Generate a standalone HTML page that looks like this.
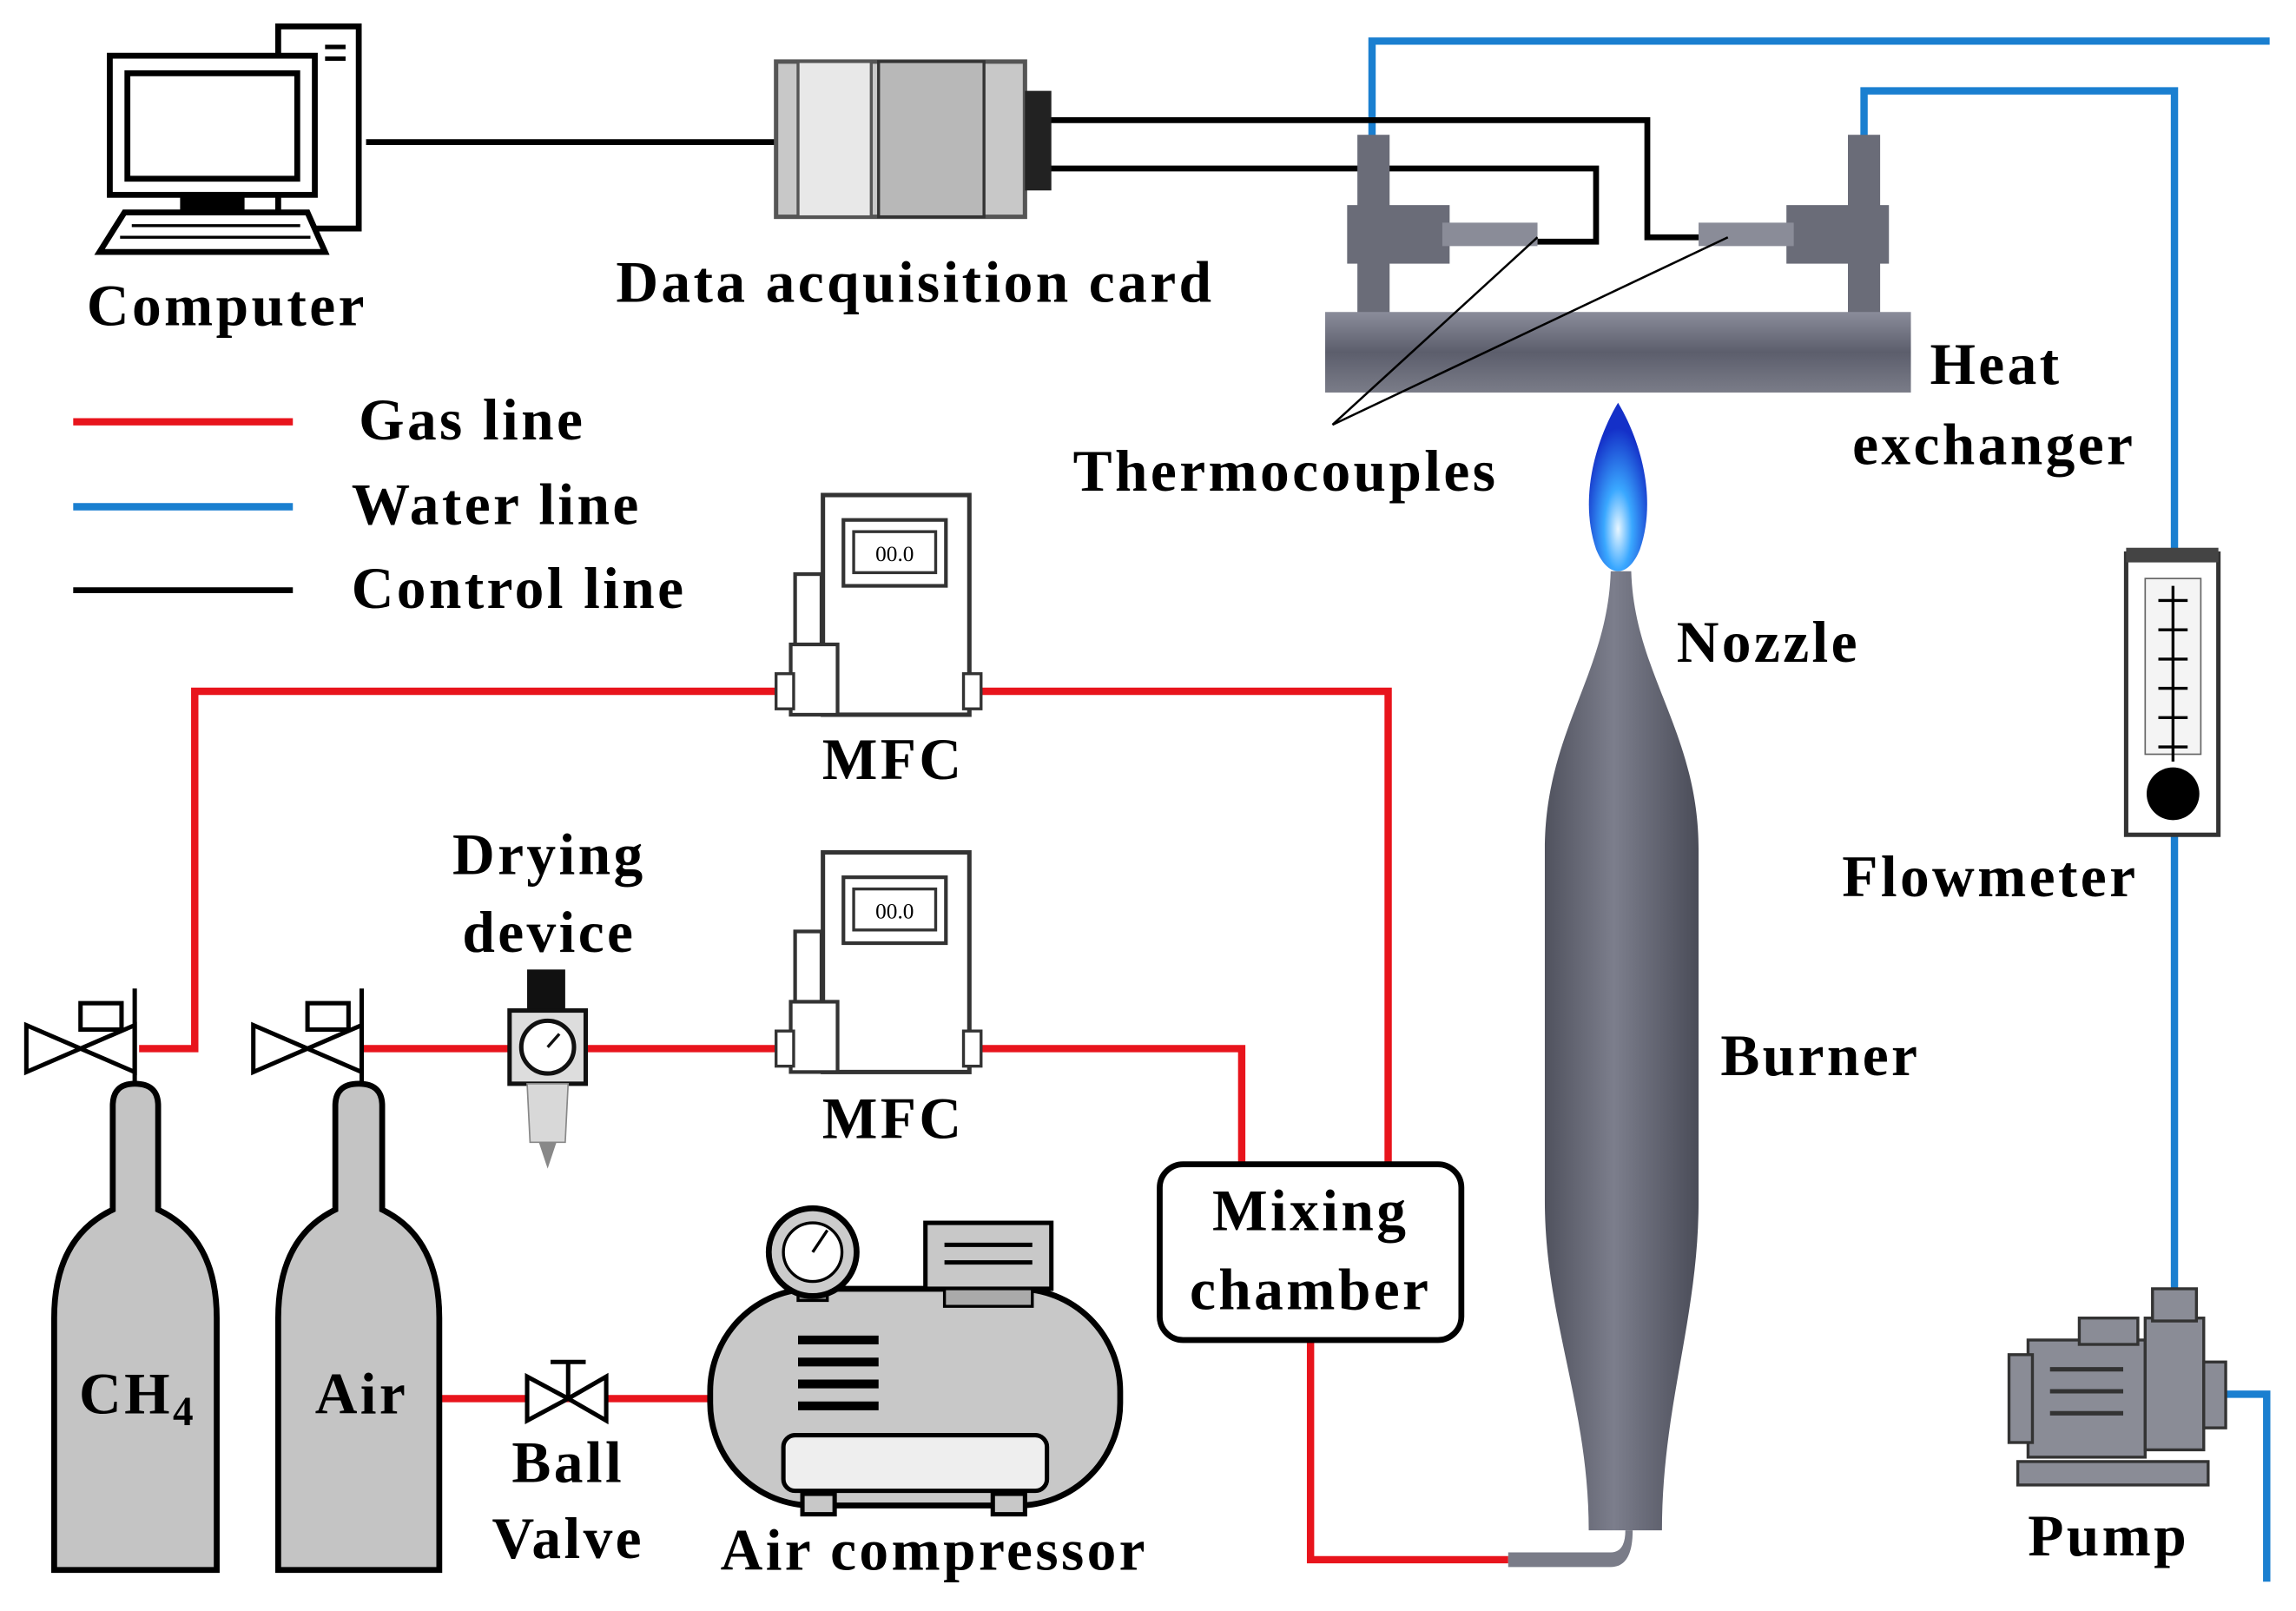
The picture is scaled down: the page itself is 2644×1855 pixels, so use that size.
<!DOCTYPE html>
<html><head><meta charset="utf-8"><style>
html,body{margin:0;padding:0;background:#fff}
svg{display:block}
text{font-family:"Liberation Serif",serif;font-weight:bold;fill:#000;letter-spacing:2px}
</style></head><body>
<svg width="2644" height="1855" viewBox="0 0 1568 1100" xmlns="http://www.w3.org/2000/svg">
<defs>
<linearGradient id="hx" x1="0" y1="0" x2="0" y2="1"><stop offset="0" stop-color="#8a8c9a"/><stop offset="0.5" stop-color="#5c5e6c"/><stop offset="1" stop-color="#7a7c88"/></linearGradient>
<linearGradient id="bur" x1="0" y1="0" x2="1" y2="0"><stop offset="0" stop-color="#50525e"/><stop offset="0.45" stop-color="#7c7e8c"/><stop offset="1" stop-color="#4a4c58"/></linearGradient>
<radialGradient id="fl" cx="0.5" cy="0.75" r="0.6"><stop offset="0" stop-color="#e8f6ff"/><stop offset="0.4" stop-color="#3aa8ff"/><stop offset="1" stop-color="#1430c8"/></radialGradient>
</defs>
<rect width="1568" height="1100" fill="#fff"/>

<g stroke="#1a7fd0" stroke-width="5" fill="none">
<polyline points="937,95 937,28 1550,28"/>
<polyline points="1273,95 1273,62 1485,62 1485,380"/>
<line x1="1485" y1="570" x2="1485" y2="880"/>
<polyline points="1515,952 1548,952 1548,1080"/>
</g>

<g stroke="#000" stroke-width="4" fill="none">
<line x1="250" y1="97" x2="530" y2="97"/>
<polyline points="715,82 1125,82 1125,162 1165,162"/>
<polyline points="715,115 1090,115 1090,165 1050,165"/>
<line x1="50" y1="403" x2="200" y2="403"/>
</g>

<g stroke="#e8141c" stroke-width="5" fill="none">
<polyline points="95,716 133,716 133,472 535,472"/>
<polyline points="668,472 948,472 948,797"/>
<line x1="240" y1="716" x2="530" y2="716"/>
<polyline points="668,716 848,716 848,797"/>
<polyline points="895,915 895,1065 1030,1065"/>
<line x1="300" y1="955" x2="488" y2="955"/>
</g>
<line x1="50" y1="288" x2="200" y2="288" stroke="#e8141c" stroke-width="5"/>
<line x1="50" y1="346" x2="200" y2="346" stroke="#1a7fd0" stroke-width="5"/>

<g stroke="#000" stroke-width="4" fill="#fff">
<rect x="190" y="18" width="55" height="138"/>
<rect x="75" y="38" width="140" height="95" fill="#fff"/>
<rect x="87" y="50" width="116" height="72" fill="#fff"/>
<rect x="125" y="133" width="40" height="10" fill="#000"/>
<polygon points="85,145 210,145 222,172 68,172" fill="#fff"/>
</g>
<g stroke="#000" stroke-width="2"><line x1="90" y1="154" x2="205" y2="154"/><line x1="82" y1="162" x2="212" y2="162"/></g>
<line x1="222" y1="32" x2="236" y2="32" stroke="#000" stroke-width="3"/>
<line x1="222" y1="40" x2="236" y2="40" stroke="#000" stroke-width="3"/>

<rect x="530" y="42" width="170" height="106" fill="#c8c8c8" stroke="#555" stroke-width="3"/>
<rect x="545" y="42" width="50" height="106" fill="#e8e8e8" stroke="#555" stroke-width="2"/>
<rect x="600" y="42" width="72" height="106" fill="#b8b8b8" stroke="#333" stroke-width="2"/>
<rect x="700" y="62" width="18" height="68" fill="#222"/>

<g fill="#6a6c78">
<rect x="927" y="92" width="22" height="122"/><rect x="1262" y="92" width="22" height="122"/>
<rect x="920" y="140" width="70" height="40"/><rect x="1220" y="140" width="70" height="40"/>
<rect x="985" y="152" width="65" height="16" fill="#8a8c98"/><rect x="1160" y="152" width="65" height="16" fill="#8a8c98"/>
</g>
<rect x="905" y="213" width="400" height="55" fill="url(#hx)"/>
<g stroke="#000" stroke-width="1.5"><line x1="910" y1="290" x2="1050" y2="162"/><line x1="910" y1="290" x2="1180" y2="162"/></g>

<path d="M1105,275 C1090,300 1078,340 1090,375 C1098,395 1112,395 1120,375 C1132,340 1120,300 1105,275Z" fill="url(#fl)"/>

<path d="M1100,390 L1114,390 C1116,460 1160,500 1160,580 L1160,820 C1160,900 1135,960 1135,1045 L1085,1045 C1085,960 1055,900 1055,820 L1055,580 C1055,500 1098,460 1100,390Z" fill="url(#bur)"/>
<path d="M1030,1060 L1100,1060 Q1110,1060 1110,1045 L1115,1045 Q1115,1070 1100,1070 L1030,1070Z" fill="#7a7c88"/>

<rect x="1452" y="378" width="63" height="192" fill="#fff" stroke="#333" stroke-width="3"/>
<rect x="1465" y="395" width="38" height="120" fill="#f4f4f4" stroke="#666"/>
<g stroke="#000" stroke-width="2"><line x1="1484" y1="400" x2="1484" y2="520"/>
<line x1="1474" y1="410" x2="1494" y2="410"/><line x1="1474" y1="430" x2="1494" y2="430"/><line x1="1474" y1="450" x2="1494" y2="450"/><line x1="1474" y1="470" x2="1494" y2="470"/><line x1="1474" y1="490" x2="1494" y2="490"/><line x1="1474" y1="510" x2="1494" y2="510"/></g>
<circle cx="1484" cy="542" r="18" fill="#000"/>
<rect x="1452" y="374" width="63" height="10" fill="#444"/>

<g fill="#8a8c96" stroke="#333" stroke-width="2">
<rect x="1378" y="998" width="130" height="16"/>
<rect x="1385" y="915" width="80" height="80"/>
<rect x="1372" y="925" width="16" height="60"/>
<rect x="1465" y="900" width="40" height="90"/>
<rect x="1470" y="880" width="30" height="22"/>
<rect x="1505" y="930" width="15" height="45"/>
<rect x="1420" y="900" width="40" height="18"/>
</g>
<g stroke="#333" stroke-width="3"><line x1="1400" y1="935" x2="1450" y2="935"/><line x1="1400" y1="950" x2="1450" y2="950"/><line x1="1400" y1="965" x2="1450" y2="965"/></g>

<g id="mfc">
<rect x="562" y="338" width="100" height="150" fill="#fff" stroke="#333" stroke-width="3"/>
<rect x="576" y="355" width="70" height="45" fill="#fff" stroke="#333" stroke-width="2.5"/>
<rect x="583" y="363" width="56" height="28" fill="#fff" stroke="#333" stroke-width="2"/>
<text x="611" y="383" font-size="15" text-anchor="middle" style="font-weight:normal;letter-spacing:0">00.0</text>
<rect x="543" y="392" width="18" height="50" fill="#fff" stroke="#333" stroke-width="2.5"/>
<rect x="540" y="440" width="32" height="48" fill="#fff" stroke="#333" stroke-width="2.5"/>
<rect x="530" y="460" width="12" height="24" fill="#fff" stroke="#333" stroke-width="2"/>
<rect x="658" y="460" width="12" height="24" fill="#fff" stroke="#333" stroke-width="2"/>
</g>
<use href="#mfc" transform="translate(0,244)"/>

<g id="vlv" stroke="#000" stroke-width="3" fill="#fff">
<polygon points="18,700 18,732 55,716" fill="#fff"/>
<polygon points="92,700 92,732 55,716" fill="#fff"/>
<rect x="55" y="685" width="28" height="18" fill="#fff"/>
<line x1="92" y1="675" x2="92" y2="740"/>
</g>
<use href="#vlv" transform="translate(155,0)"/>

<g fill="#c4c4c4" stroke="#000" stroke-width="4">
<path d="M77,826 L77,755 Q77,740 92,740 Q108,740 108,755 L108,826 Q148,845 148,900 L148,1072 L37,1072 L37,900 Q37,845 77,826Z"/>
<path d="M229,826 L229,755 Q229,740 245,740 Q261,740 261,755 L261,826 Q300,845 300,900 L300,1072 L190,1072 L190,900 Q190,845 229,826Z"/>
</g>

<rect x="360" y="662" width="26" height="28" fill="#111"/>
<rect x="348" y="690" width="52" height="50" fill="#ddd" stroke="#111" stroke-width="3"/>
<circle cx="374" cy="715" r="18" fill="#fff" stroke="#111" stroke-width="3"/>
<line x1="374" y1="715" x2="382" y2="706" stroke="#111" stroke-width="2"/>
<path d="M360,740 L388,740 L386,780 L362,780Z" fill="#d8d8d8" stroke="#888"/>
<path d="M368,780 L380,780 L374,798Z" fill="#888"/>

<g stroke="#000" stroke-width="3" fill="#fff">
<polygon points="360,940 360,970 388,955"/><polygon points="414,940 414,970 388,955"/>
<line x1="388" y1="955" x2="388" y2="930"/><line x1="376" y1="930" x2="400" y2="930"/>
</g>

<rect x="485" y="880" width="280" height="148" rx="70" fill="#c8c8c8" stroke="#000" stroke-width="4"/>
<rect x="535" y="980" width="180" height="38" rx="8" fill="#eee" stroke="#000" stroke-width="3"/>
<g stroke="#000" stroke-width="6"><line x1="545" y1="915" x2="600" y2="915"/><line x1="545" y1="930" x2="600" y2="930"/><line x1="545" y1="945" x2="600" y2="945"/><line x1="545" y1="960" x2="600" y2="960"/></g>
<rect x="548" y="1020" width="22" height="14" fill="#c8c8c8" stroke="#000" stroke-width="3"/>
<rect x="678" y="1020" width="22" height="14" fill="#c8c8c8" stroke="#000" stroke-width="3"/>
<rect x="545" y="880" width="20" height="8" fill="#888" stroke="#000" stroke-width="2"/>
<circle cx="555" cy="855" r="30" fill="#ccc" stroke="#000" stroke-width="4"/>
<circle cx="555" cy="855" r="20" fill="#fff" stroke="#000" stroke-width="2"/>
<line x1="555" y1="855" x2="565" y2="840" stroke="#000" stroke-width="2"/>
<rect x="632" y="835" width="86" height="45" fill="#c8c8c8" stroke="#000" stroke-width="3"/>
<line x1="645" y1="850" x2="705" y2="850" stroke="#000" stroke-width="3"/><line x1="645" y1="862" x2="705" y2="862" stroke="#000" stroke-width="3"/>
<rect x="645" y="880" width="60" height="12" fill="#aaa" stroke="#000" stroke-width="2"/>

<rect x="792" y="795" width="206" height="120" rx="16" fill="#fff" stroke="#000" stroke-width="4"/>

<g font-size="40">
<text x="155" y="222" text-anchor="middle">Computer</text>
<text x="625" y="206" text-anchor="middle">Data acquisition card</text>
<text x="245" y="300">Gas line</text>
<text x="240" y="358">Water line</text>
<text x="240" y="415">Control line</text>
<text x="878" y="335" text-anchor="middle">Thermocouples</text>
<text x="1318" y="262">Heat</text>
<text x="1265" y="317">exchanger</text>
<text x="1145" y="452">Nozzle</text>
<text x="1175" y="734">Burner</text>
<text x="1258" y="612">Flowmeter</text>
<text x="1440" y="1062" text-anchor="middle">Pump</text>
<text x="610" y="532" text-anchor="middle">MFC</text>
<text x="610" y="777" text-anchor="middle">MFC</text>
<text x="375" y="597" text-anchor="middle">Drying</text>
<text x="375" y="650" text-anchor="middle">device</text>
<text x="895" y="840" text-anchor="middle">Mixing</text>
<text x="895" y="894" text-anchor="middle">chamber</text>
<text x="388" y="1012" text-anchor="middle">Ball</text>
<text x="388" y="1064" text-anchor="middle">Valve</text>
<text x="638" y="1072" text-anchor="middle">Air compressor</text>
<text x="54" y="965">CH<tspan font-size="28" dy="8">4</tspan></text>
<text x="247" y="965" text-anchor="middle">Air</text>
</g>
</svg>
</body></html>
